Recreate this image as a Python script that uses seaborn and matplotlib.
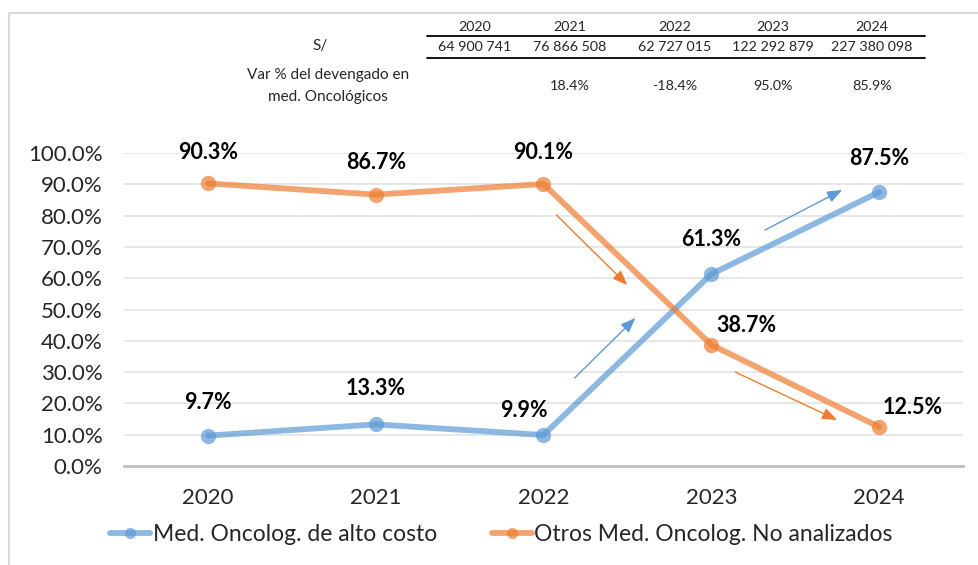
import matplotlib
matplotlib.use("Agg")
import matplotlib.pyplot as plt
import seaborn as sns
import pandas as pd

years = ["2020", "2021", "2022", "2023", "2024"]
alto_costo = [9.7, 13.3, 9.9, 61.3, 87.5]
otros = [90.3, 86.7, 90.1, 38.7, 12.5]
series_names = ["Med. Oncolog. de alto costo", "Otros Med. Oncolog. No analizados"]
devengado = ["64 900 741", "76 866 508", "62 727 015", "122 292 879", "227 380 098"]
var_pct = ["", "18.4%", "-18.4%", "95.0%", "85.9%"]
yticks = [0, 10, 20, 30, 40, 50, 60, 70, 80, 90, 100]

df = pd.DataFrame({
    "year": years * 2,
    "value": alto_costo + otros,
    "serie": [series_names[0]] * 5 + [series_names[1]] * 5,
})

sns.set_style("white")
plt.rcParams["font.family"] = ["Lato", "DejaVu Sans"]

BLUE = "#5b9bd5"
ORANGE = "#ed7d31"

fig = plt.figure(figsize=(9.79, 5.65), dpi=100)
ax = fig.add_axes([124 / 979, 1 - 466 / 565, (963 - 124) / 979, (466 - 153) / 565])

sns.lineplot(data=df, x="year", y="value", hue="serie", palette=[BLUE, ORANGE],
             marker="o", markersize=11, markeredgewidth=0, linewidth=4.2, alpha=0.7,
             ax=ax, sort=False)

ax.set_xlim(-0.5, 4.5)
ax.set_ylim(0, 100)
ax.set_yticks(yticks)
ax.set_yticklabels([f"{v:.1f}%" for v in yticks], fontsize=16)
ax.tick_params(axis="x", labelsize=16, length=0, pad=16)
ax.tick_params(axis="y", length=0, pad=15.5)
ax.set_xlabel("")
ax.set_ylabel("")
ax.grid(axis="y", color="#e3e3e3", linewidth=1.2)
ax.set_axisbelow(True)
for s in ["top", "right", "left"]:
    ax.spines[s].set_visible(False)
ax.spines["bottom"].set_color("#bfbfbf")
ax.spines["bottom"].set_linewidth(2)

# data labels (offsets in points)
lab_off_blue = [(0, 24), (0, 26), (-14, 18), (0, 25), (0, 24)]
lab_off_orange = [(0, 22), (0, 23), (0, 23), (25, 14), (24, 14)]
for i, v in enumerate(alto_costo):
    ax.annotate(f"{v:.1f}%", (i, v), xytext=lab_off_blue[i], textcoords="offset points",
                ha="center", va="center", fontsize=15.5, fontweight="bold", color="#000000")
for i, v in enumerate(otros):
    ax.annotate(f"{v:.1f}%", (i, v), xytext=lab_off_orange[i], textcoords="offset points",
                ha="center", va="center", fontsize=15.5, fontweight="bold", color="#000000")

# trend arrows
arrows = [
    ((2.185, 28.1), (2.548, 47.3), BLUE),
    ((3.32, 75.4), (3.78, 88.2), BLUE),
    ((2.077, 80.2), (2.5, 57.8), ORANGE),
    ((3.143, 30.0), (3.75, 14.7), ORANGE),
]
for start, end, c in arrows:
    ax.annotate("", xy=end, xytext=start,
                arrowprops=dict(arrowstyle="-|>,head_length=0.9,head_width=0.35",
                                color=c, lw=1.0, shrinkA=0, shrinkB=0))

# legend
handles, labels = ax.get_legend_handles_labels()
leg = ax.legend(handles, labels, loc="upper center", bbox_to_anchor=(0.45, -0.12),
                ncol=2, frameon=False, fontsize=16.5, handlelength=1.75,
                handletextpad=0.1, columnspacing=2.4)
for ln in leg.get_lines():
    ln.set_markersize(8)

# table at top
tfs = 11
nfs = 10.3
col_x = [475, 570, 675, 773, 872]
for i, x in enumerate(col_x):
    fig.text(x / 979, 1 - 27 / 565, years[i], ha="center", va="center", fontsize=nfs)
    fig.text(x / 979, 1 - 47 / 565, devengado[i], ha="center", va="center", fontsize=nfs)
    fig.text(x / 979, 1 - 86 / 565, var_pct[i], ha="center", va="center", fontsize=nfs)
fig.text(320 / 979, 1 - 46 / 565, "S/", ha="center", va="center", fontsize=tfs)
fig.text(328 / 979, 1 - 75 / 565, "Var % del devengado en", ha="center", va="center", fontsize=tfs)
fig.text(328 / 979, 1 - 97 / 565, "med. Oncológicos", ha="center", va="center", fontsize=tfs)
fig.add_artist(plt.Line2D([427 / 979, 925 / 979], [1 - 36 / 565, 1 - 36 / 565],
                          color="black", lw=1.3, transform=fig.transFigure))
fig.add_artist(plt.Line2D([427 / 979, 925 / 979], [1 - 58 / 565, 1 - 58 / 565],
                          color="black", lw=1.3, transform=fig.transFigure))

# outer frame (left + top)
fig.add_artist(plt.Line2D([9 / 979, 9 / 979], [0, 1 - 13 / 565], color="#d9d9d9", lw=1.5,
                          transform=fig.transFigure))
fig.add_artist(plt.Line2D([9 / 979, 1], [1 - 13 / 565, 1 - 13 / 565], color="#d9d9d9", lw=1.5,
                          transform=fig.transFigure))

fig.savefig("out.png", dpi=100, facecolor="white")
